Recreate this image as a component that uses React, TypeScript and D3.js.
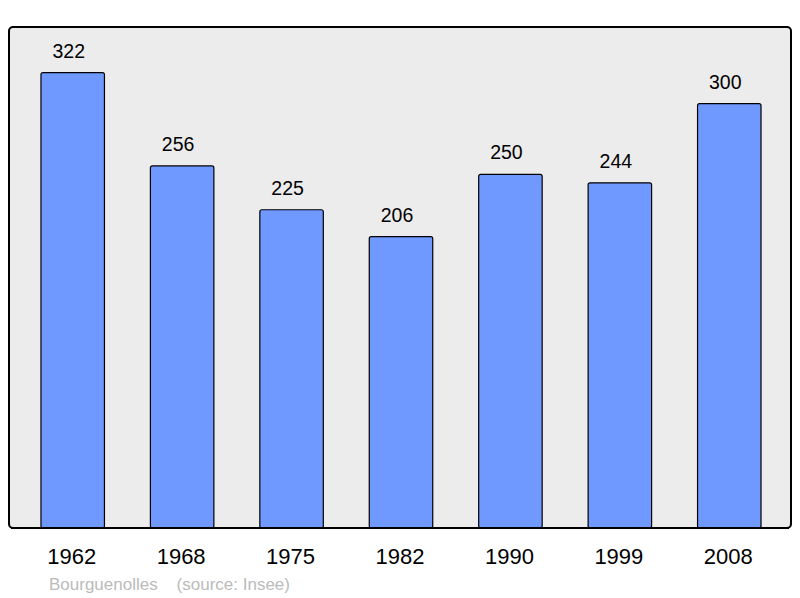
import React, { useRef, useEffect } from 'react';
import * as d3 from 'd3';

const years = ['1962', '1968', '1975', '1982', '1990', '1999', '2008'];
const population = [322, 256, 225, 206, 250, 244, 300];
const townName = 'Bourguenolles';
const sourceText = '(source: Insee)';

function App() {
  const ref = useRef<SVGSVGElement>(null);

  useEffect(() => {
    const svg = d3.select(ref.current);
    svg.selectAll('*').remove();

    const panel = { left: 9, top: 27, right: 791, bottom: 528 };
    const font = 'Liberation Sans, Arial, sans-serif';

    const x = d3.scaleBand()
      .domain(years)
      .range([18, 784])
      .paddingInner(0.42)
      .paddingOuter(0.21);

    const y = d3.scaleLinear()
      .domain([0, d3.max(population)! * 1.1])
      .range([panel.bottom, panel.top]);

    svg.append('rect')
      .attr('x', panel.left)
      .attr('y', panel.top)
      .attr('width', panel.right - panel.left)
      .attr('height', panel.bottom - panel.top)
      .attr('rx', 4)
      .attr('fill', '#ececec')
      .attr('stroke', '#000')
      .attr('stroke-width', 2);

    const data = years.map((yr, i) => ({ yr, v: population[i] }));

    svg.selectAll('rect.bar')
      .data(data)
      .join('rect')
      .attr('class', 'bar')
      .attr('x', d => x(d.yr)!)
      .attr('y', d => y(d.v))
      .attr('width', x.bandwidth())
      .attr('height', d => y(0) - y(d.v))
      .attr('rx', 2)
      .attr('fill', '#7099ff')
      .attr('stroke', '#000')
      .attr('stroke-width', 1.2);

    // bottom edge of the panel sits over the bars
    svg.append('line')
      .attr('x1', panel.left + 2)
      .attr('x2', panel.right - 2)
      .attr('y1', panel.bottom)
      .attr('y2', panel.bottom)
      .attr('stroke', '#000')
      .attr('stroke-width', 2);

    svg.selectAll('text.val')
      .data(data)
      .join('text')
      .attr('class', 'val')
      .attr('x', d => x(d.yr)! + x.bandwidth() / 2 - 4)
      .attr('y', d => y(d.v) - 15)
      .attr('text-anchor', 'middle')
      .attr('font-family', font)
      .attr('font-size', 19.5)
      .attr('fill', '#000')
      .text(d => d.v);

    svg.selectAll('text.year')
      .data(years)
      .join('text')
      .attr('class', 'year')
      .attr('x', d => x(d)! + x.bandwidth() / 2 - 1)
      .attr('y', 563.5)
      .attr('text-anchor', 'middle')
      .attr('font-family', font)
      .attr('font-size', 22)
      .attr('fill', '#000')
      .text(d => d);

    svg.append('text')
      .attr('x', 49)
      .attr('y', 590)
      .attr('font-family', font)
      .attr('font-size', 17)
      .attr('fill', '#bbbbbb')
      .attr('xml:space', 'preserve')
      .text(`${townName}    ${sourceText}`);
  }, []);

  return (
    <svg ref={ref} width={800} height={598}
      style={{ position: 'absolute', left: 0, top: 0, display: 'block' }} />
  );
}

export default App;
